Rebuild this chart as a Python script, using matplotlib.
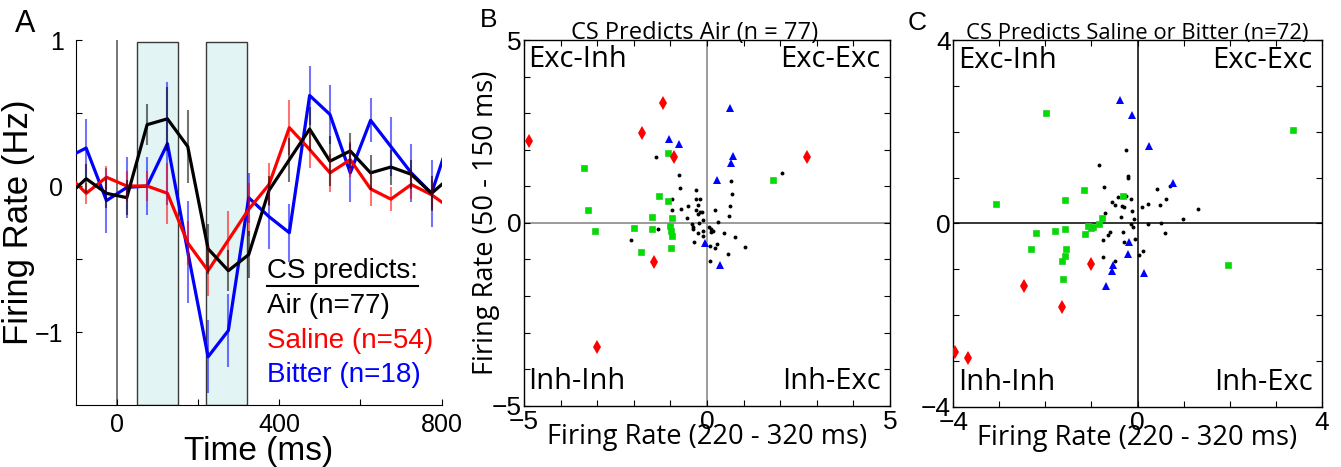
import numpy as np
import matplotlib
matplotlib.use('Agg')
import matplotlib.pyplot as plt
from matplotlib.patches import Rectangle
from matplotlib.lines import Line2D

# ---- 패널 A 데이터 (시간 bin 중심, ms) ----
time_ms = [-125, -75, -25, 25, 75, 125, 175, 225, 275, 325,
           375, 425, 475, 525, 575, 625, 675, 725, 775, 825]
air_rate = [-0.08, 0.05, -0.05, -0.08, 0.42, 0.46, 0.27, -0.43, -0.58, -0.47,
            -0.03, 0.18, 0.39, 0.17, 0.24, 0.09, 0.13, 0.08, -0.05, 0.07]
saline_rate = [0.09, -0.05, 0.06, 0.0, 0.0, -0.05, -0.39, -0.58, -0.37, -0.16,
               0.01, 0.40, 0.25, 0.09, 0.18, -0.02, -0.09, 0.01, -0.06, -0.16]
bitter_rate = [0.19, 0.26, -0.10, -0.01, 0.0, 0.29, -0.45, -1.17, -0.99, -0.08,
               -0.21, -0.32, 0.62, 0.49, 0.09, 0.45, 0.27, 0.09, -0.05, 0.37]
air_err = [0.1, 0.1, 0.1, 0.12, 0.14, 0.22, 0.25, 0.17, 0.14, 0.16,
           0.1, 0.15, 0.15, 0.17, 0.12, 0.12, 0.12, 0.1, 0.12, 0.12]
saline_err = [0.08, 0.07, 0.08, 0.1, 0.1, 0.21, 0.15, 0.17, 0.2, 0.18,
              0.15, 0.19, 0.13, 0.13, 0.12, 0.12, 0.08, 0.1, 0.1, 0.1]
bitter_err = [0.2, 0.2, 0.22, 0.21, 0.2, 0.42, 0.35, 0.25, 0.25, 0.17,
              0.22, 0.2, 0.2, 0.2, 0.2, 0.15, 0.2, 0.2, 0.23, 0.2]
windows = [(50, 150), (220, 320)]
legend_labels = ['Air (n=77)', 'Saline (n=54)', 'Bitter (n=18)']

# ---- 패널 B 데이터 (CS predicts Air) ----
b_red_x = [-4.85, -1.19, -1.78, -0.91, 2.72, -1.45, -3.0]
b_red_y = [2.25, 3.29, 2.45, 1.81, 1.81, -1.08, -3.39]
b_blue_x = [0.63, -1.04, -0.76, 0.72, 0.65, 0.28, -0.06, 0.35]
b_blue_y = [3.13, 2.30, 2.15, 1.83, 1.65, 1.18, -0.56, -1.15]
b_green_x = [-3.37, -1.07, 1.81, -3.25, -3.07, -1.31, -1.07, -1.50, -0.96,
             -2.0, -1.51, -1.01, -0.98, -0.96, -1.79, -0.98]
b_green_y = [1.51, 1.92, 1.17, 0.36, -0.22, 0.73, 0.61, 0.15, 0.12,
             -0.14, -0.17, -0.08, -0.22, -0.37, -0.81, -0.68]
b_black_x = [-1.38, -0.76, -0.73, 2.06, 0.66, 0.69, -0.31, -0.96, -0.31, -0.2,
             -0.51, -0.24, -0.70, -0.95, -0.29, -0.2, -0.15, -0.24, 0.63, 0.23,
             0.59, -0.54, -0.11, 0.30, -0.42, -0.23, -0.38, 0.06, -0.38, 0.11,
             0.16, 0.10, -0.10, -0.25, 0.46, -0.11, 0.76, -1.34, -2.07, -0.36,
             0.09, 0.27, 0.21, 1.04, 0.58, 0.09]
b_black_y = [1.79, 1.31, 0.94, 1.36, 1.14, 0.79, 0.91, 0.65, 0.66, 0.65,
             0.47, 0.50, 0.39, 0.34, 0.34, 0.31, 0.30, 0.24, 0.47, 0.34,
             0.18, 0.13, 0.07, 0.02, -0.03, 0.0, -0.10, -0.11, -0.16, -0.17,
             -0.22, -0.24, -0.21, -0.27, -0.28, -0.36, -0.39, -0.16, -0.47, -0.51,
             -0.63, -0.57, -0.69, -0.66, -0.84, -1.05]

# ---- 패널 C 데이터 (CS predicts Saline or Bitter) ----
c_red_x = [-3.96, -3.67, -2.46, -1.65, -1.02]
c_red_y = [-2.80, -2.93, -1.36, -1.83, -0.89]
c_blue_x = [-0.37, -0.12, 0.26, 0.78, -0.19, -0.20, -0.54, -0.56, 0.14, -0.68]
c_blue_y = [2.70, 2.37, 1.69, 0.88, -0.41, -0.67, -0.91, -1.03, -1.09, -1.37]
c_green_x = [-1.99, 3.37, -3.07, -1.57, -1.16, -0.32, -0.77, -0.83, -1.07, -1.01,
             -0.96, -2.20, -1.79, -1.58, -1.15, -2.32, -1.56, -1.58, -1.64, -1.61, 1.97]
c_green_y = [2.40, 2.04, 0.43, 0.50, 0.72, 0.59, 0.11, -0.01, -0.06, -0.10,
             -0.08, -0.20, -0.16, -0.13, -0.23, -0.57, -0.55, -0.71, -0.83, -1.22, -0.90]
c_black_x = [-0.26, -0.84, -0.20, -0.20, -0.72, 0.42, 0.70, -0.42, -0.25, -0.14,
             0.62, -0.55, -0.49, -0.33, -0.30, 0.22, 0.09, 0.49, 1.32, -0.13,
             -0.71, -0.36, -0.07, 0.99, -0.14, -0.09, 0.23, 0.51, -0.59, -0.31,
             -0.64, -0.05, -0.76, -0.30, 0.59, 0.13, 0.04, -0.75, -0.49]
c_black_y = [1.59, 1.28, 1.04, 1.00, 0.79, 0.75, 0.82, 0.58, 0.60, 0.54,
             0.54, 0.46, 0.41, 0.38, 0.36, 0.43, 0.36, 0.41, 0.32, 0.28,
             0.22, 0.14, 0.09, 0.09, -0.02, -0.07, -0.01, 0.01, -0.18, -0.18,
             -0.25, -0.34, -0.37, -0.40, -0.20, -0.61, -0.70, -0.73, -0.83]

quadrants = ['Exc-Inh', 'Exc-Exc', 'Inh-Inh', 'Inh-Exc']

ARIAL = 'Liberation Sans'
MYRIAD = 'Open Sans'
GREEN = '#00dd00'

plt.rcParams['font.family'] = ARIAL
plt.rcParams['axes.unicode_minus'] = True

W, H = 1341, 467
fig = plt.figure(figsize=(W / 100, H / 100), dpi=100)


def px_axes(left, top, right, bottom):
    return fig.add_axes([left / W, 1 - bottom / H, (right - left) / W, (bottom - top) / H])


# ================= 패널 A =================
axA = px_axes(76, 40, 441.7, 405)
for s, e in windows:
    axA.add_patch(Rectangle((s, -1.5), e - s, 0.985 + 1.5, facecolor='#e3f4f4',
                            edgecolor='#3a3a3a', lw=1.0, zorder=1))
axA.axvline(0, color='#6a6a6a', lw=1.3, zorder=1.5)

series = [(bitter_rate, bitter_err, '#0000ff'),
          (saline_rate, saline_err, '#ff0000'),
          (air_rate, air_err, 'black')]
for i, (rate, err, col) in enumerate(series):
    r = np.array(rate)
    er = np.array(err)
    axA.plot(time_ms, rate, color=col, lw=2.3, zorder=3 + i)
    axA.vlines(time_ms, r - er, r + er, color=col, lw=1.5, alpha=0.55, zorder=6)

axA.set_xlim(-100, 800)
axA.set_ylim(-1.5, 1)
axA.set_xticks([0, 200, 400, 600, 800])
axA.set_xticklabels(['0', '', '400', '', '800'])
axA.set_yticks([-1, -0.5, 0, 0.5, 1])
axA.set_yticklabels(['\u22121', '', '0', '', '1'])
axA.spines['top'].set_visible(False)
axA.spines['right'].set_visible(False)
axA.tick_params(direction='in', length=4, width=0.8, labelsize=18)
axA.tick_params(axis='y', pad=9)
axA.tick_params(axis='x', pad=6)
axA.set_xlabel('Time (ms)', fontsize=24, labelpad=-1)
axA.set_ylabel('Firing Rate (Hz)', fontsize=25, labelpad=0)

t_head = axA.text(371, -0.63, 'CS predicts:', fontsize=20, va='baseline', zorder=10)
for k, (lab, col) in enumerate(zip(legend_labels, ['black', '#ff0000', '#0000ff'])):
    axA.text(371, -0.87 - 0.237 * k, lab, fontsize=20, color=col,
             va='baseline', zorder=10)


# ================= 패널 B, C =================
def scatter_panel(ax, lim, red, blue, green, black, zero_col):
    ax.axhline(0, color=zero_col, lw=1.1, zorder=1)
    ax.axvline(0, color=zero_col, lw=1.1, zorder=1)
    ax.plot(black[0], black[1], 'o', color='black', ms=2.8, mew=0, zorder=3)
    ax.plot(green[0], green[1], 's', color=GREEN, ms=4.2, mec='#22cc22', mew=0.5, zorder=4)
    ax.plot(blue[0], blue[1], '^', color='#0000ff', ms=6, mew=0, zorder=5)
    ax.plot(red[0], red[1], 'd', color='#ff0000', ms=7, mew=0, zorder=6)
    ax.set_xlim(-lim, lim)
    ax.set_ylim(-lim, lim)
    ticks = list(range(-lim, lim + 1))
    labs = ['\u2212%d' % lim if v == -lim else ('0' if v == 0 else (str(lim) if v == lim else ''))
            for v in ticks]
    ax.set_xticks(ticks)
    ax.set_yticks(ticks)
    ax.set_xticklabels(labs)
    ax.set_yticklabels(labs)
    ax.tick_params(direction='in', length=4, width=0.8, labelsize=19,
                   top=True, right=True)
    ax.tick_params(axis='x', pad=3)
    ax.tick_params(axis='y', pad=2)
    for sp in ax.spines.values():
        sp.set_linewidth(1.0)
    ax.set_xlabel('Firing Rate (220 - 320 ms)', fontsize=19.6, family=MYRIAD, labelpad=-8)
    ax.text(0.012, 0.985, quadrants[0], transform=ax.transAxes, fontsize=21,
            family=MYRIAD, ha='left', va='top')
    ax.text(0.975, 0.985, quadrants[1], transform=ax.transAxes, fontsize=21,
            family=MYRIAD, ha='right', va='top')
    ax.text(0.012, 0.045, quadrants[2], transform=ax.transAxes, fontsize=21,
            family=MYRIAD, ha='left', va='baseline')
    ax.text(0.975, 0.045, quadrants[3], transform=ax.transAxes, fontsize=21,
            family=MYRIAD, ha='right', va='baseline')


axB = px_axes(524, 40, 890, 405.7)
scatter_panel(axB, 5, (b_red_x, b_red_y), (b_blue_x, b_blue_y),
              (b_green_x, b_green_y), (b_black_x, b_black_y), '#808080')
axB.set_ylabel('Firing Rate (50 - 150 ms)', fontsize=19.6, family=MYRIAD, labelpad=-6)
axB.set_title('CS Predicts Air (n = 77)', fontsize=17, family=MYRIAD, x=0.465, pad=1)

axC = px_axes(953.3, 40, 1321.7, 406.7)
scatter_panel(axC, 4, (c_red_x, c_red_y), (c_blue_x, c_blue_y),
              (c_green_x, c_green_y), (c_black_x, c_black_y), 'black')
axC.set_title('CS Predicts Saline or Bitter (n=72)', fontsize=15.8, family=MYRIAD, pad=1)

# 패널 라벨
fig.text(15 / W, 1 - 32 / H, 'A', fontsize=22, va='baseline')
fig.text(480 / W, 1 - 27 / H, 'B', fontsize=19, va='baseline')
fig.text(908 / W, 1 - 30 / H, 'C', fontsize=19, va='baseline')

# "CS predicts:" 밑줄
fig.canvas.draw()
bb = t_head.get_window_extent()
uy = bb.y0 - 2
fig.add_artist(Line2D([bb.x0 / W, bb.x1 / W], [uy / H, uy / H], color='black', lw=1.5,
                      transform=fig.transFigure))

fig.savefig('out.png', dpi=100)
